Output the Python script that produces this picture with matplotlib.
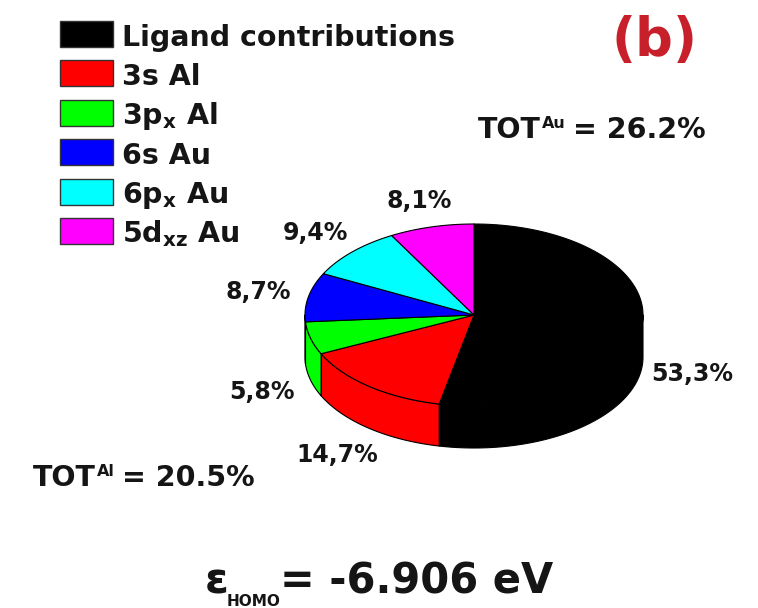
import numpy as np
import matplotlib
matplotlib.use("Agg")
import matplotlib.pyplot as plt
from matplotlib.patches import Polygon, Rectangle

plt.rcParams['font.family'] = ['DejaVu Sans']
plt.rcParams['mathtext.fontset'] = 'dejavusans'

# Orbital contributions to the HOMO (%)
categories = ["Ligand contributions", "3s Al", "3p$_\\mathbf{x}$ Al", "6s Au",
              "6p$_\\mathbf{x}$ Au", "5d$_\\mathbf{xz}$ Au"]
values = [53.3, 14.7, 5.8, 8.7, 9.4, 8.1]
colors = ["#000000", "#ff0000", "#00ff00", "#0000ff", "#00ffff", "#ff00ff"]
tot_al = 20.5
tot_au = 26.2
e_homo = -6.906

fig = plt.figure(figsize=(7.58, 6.08), dpi=100)
ax = fig.add_axes([0, 0, 1, 1])
ax.set_xlim(0, 758)
ax.set_ylim(608, 0)
ax.axis('off')

# --- 3D pie geometry (pixel units) ---
cx, cy, rx, ry, depth = 474, 315, 169, 91, 42


def ell(theta_deg, dy=0.0):
    th = np.radians(theta_deg)
    return np.column_stack([cx + rx * np.cos(th), cy - ry * np.sin(th) + dy])


fracs = np.array(values) / np.sum(values)
bounds = 90 - 360 * np.concatenate([[0], np.cumsum(fracs)])

# side walls (visible front half)
for i, c in enumerate(colors):
    ts, te = bounds[i], bounds[i + 1]
    lo, hi = max(te, -180), min(ts, 0)
    if lo < hi:
        arc = np.linspace(hi, lo, 80)
        pts = np.vstack([ell(arc), ell(arc[::-1], depth)])
        ax.add_patch(Polygon(pts, closed=True, facecolor=c, edgecolor='black',
                             linewidth=0.8, joinstyle='round'))

# top faces
for i, c in enumerate(colors):
    arc = np.linspace(bounds[i], bounds[i + 1], 120)
    pts = np.vstack([[cx, cy], ell(arc)])
    ax.add_patch(Polygon(pts, closed=True, facecolor=c, edgecolor='black',
                         linewidth=0.8, joinstyle='round'))

# percentage labels
for i, v in enumerate(values):
    mid = 0.5 * (bounds[i] + bounds[i + 1])
    th = np.radians(mid)
    lx = cx + 1.3 * rx * np.cos(th)
    ly = cy - 1.3 * ry * np.sin(th)
    if np.sin(th) < 0:
        ly += depth + 5
    ax.text(lx, ly, f"{v:.1f}%".replace('.', ','), ha='center', va='center',
            fontsize=17, fontweight='bold', color='#151515')

# --- legend ---
box_x, box_w, box_h = 60, 53, 26
row0, step = 34, 39.4
for i, (lab, c) in enumerate(zip(categories, colors)):
    yc = row0 + i * step
    ax.add_patch(Rectangle((box_x, yc - box_h / 2), box_w, box_h, facecolor=c,
                           edgecolor='#333333', linewidth=1.0))
    ax.text(122, yc + 11.5, lab, ha='left', va='baseline', fontsize=20.5,
            fontweight='bold', color='#151515')

# --- annotations ---
fig.canvas.draw()
renderer = fig.canvas.get_renderer()


def runs(x, y, parts):
    for s, size, dy, gap in parts:
        x += gap
        t = ax.text(x, y + dy, s, ha='left', va='baseline', fontsize=size,
                    fontweight='bold', color='#151515')
        x += t.get_window_extent(renderer).width


runs(478, 138, [("TOT", 20.5, 0, 0), ("Au", 11.5, -10, 1), (f"= {tot_au:.1f}%", 20.5, 0, 7)])
runs(33, 486, [("TOT", 20.5, 0, 0), ("Al", 11.5, -10, 1), (f"= {tot_al:.1f}%", 20.5, 0, 7)])

ax.text(205, 593, "ε", ha='left', va='baseline', fontsize=31, fontweight='bold',
        color='#151515')
ax.text(227, 606, "HOMO", ha='left', va='baseline', fontsize=11, fontweight='bold',
        color='#151515')
ax.text(280, 593, f"= {e_homo:.3f} eV", ha='left', va='baseline', fontsize=30,
        fontweight='bold', color='#151515')

ax.text(655, 41, "(b)", ha='center', va='center', fontsize=38, fontweight='bold',
        color='#c8202a')

fig.savefig("out.png", dpi=100)
